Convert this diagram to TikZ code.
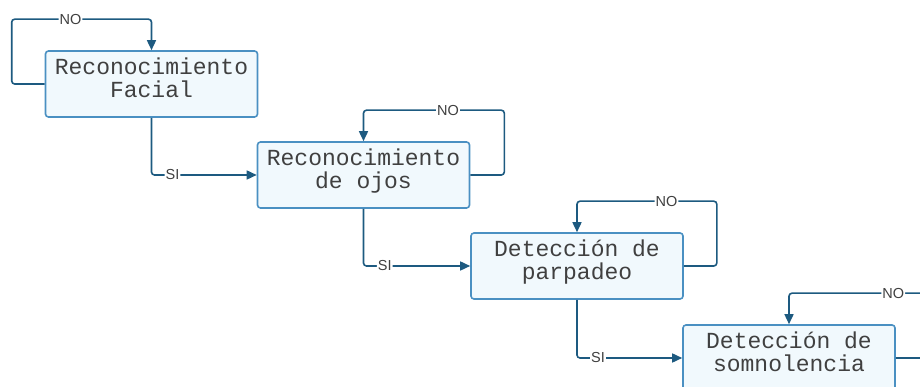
\documentclass[tikz,border=0pt]{standalone}
\usepackage{fontspec}
\newfontfamily\etapafont{Liberation Mono}
\newfontfamily\ramafont{Liberation Sans}
\usetikzlibrary{arrows.meta}
\definecolor{linea}{HTML}{1D5A80}
\definecolor{borde}{HTML}{4A90C2}
\definecolor{relleno}{HTML}{F1F9FD}
\definecolor{texto}{HTML}{404040}

\tikzset{
  etapa/.style={draw=borde, fill=relleno, line width=1.6pt, rounded corners=3pt,
    minimum width=212pt, minimum height=66pt, inner sep=0pt, align=center,
    text=texto, font=\etapafont\fontsize{23}{23}\selectfont,
    text height=38pt, text depth=10pt},
  flecha/.style={draw=linea, line width=1.6pt, rounded corners=3pt,
    -{Triangle[length=10pt,width=9pt]}},
  rama/.style={fill=white, text=texto, inner sep=1pt,
    font=\ramafont\fontsize{14.5}{14.5}\selectfont}
}

\begin{document}
\begin{tikzpicture}[x=1pt,y=1pt]
    \useasboundingbox (0,0) rectangle (920,387);
    \clip (0,0) rectangle (920,387);
    \node[etapa] (facial) at (151.5,303) {Reconocimiento\\Facial};
    \node[etapa] (ojos) at (363.5,212) {Reconocimiento\\de ojos};
    \node[etapa] (parpadeo) at (577,121) {Detecci\'on de\\parpadeo};
    \node[etapa] (somno) at (789,29) {Detecci\'on de\\somnolencia};
    % ramas SI
    \draw[flecha] (facial.south) |- node[rama, pos=0.6]{SI} (ojos.west);
    \draw[flecha] (ojos.south) |- node[rama, pos=0.6]{SI} (parpadeo.west);
    \draw[flecha] (parpadeo.south) |- node[rama, pos=0.6]{SI} (somno.west);
    % ramas NO
    \draw[flecha] (facial.west) -- ++(-33,0) |- node[rama, pos=0.71]{NO} ([yshift=31pt]facial.north) -- (facial.north);
    \draw[flecha] (ojos.east) -- ++(34,0) |- node[rama, pos=0.7]{NO} ([yshift=31pt]ojos.north) -- (ojos.north);
    \draw[flecha] (parpadeo.east) -- ++(33,0) |- node[rama, pos=0.68]{NO} ([yshift=31pt]parpadeo.north) -- (parpadeo.north);
    \draw[flecha] (somno.east) -- ++(34,0) |- node[rama, pos=0.63]{NO} ([yshift=31pt]somno.north) -- (somno.north);
\end{tikzpicture}
\end{document}
